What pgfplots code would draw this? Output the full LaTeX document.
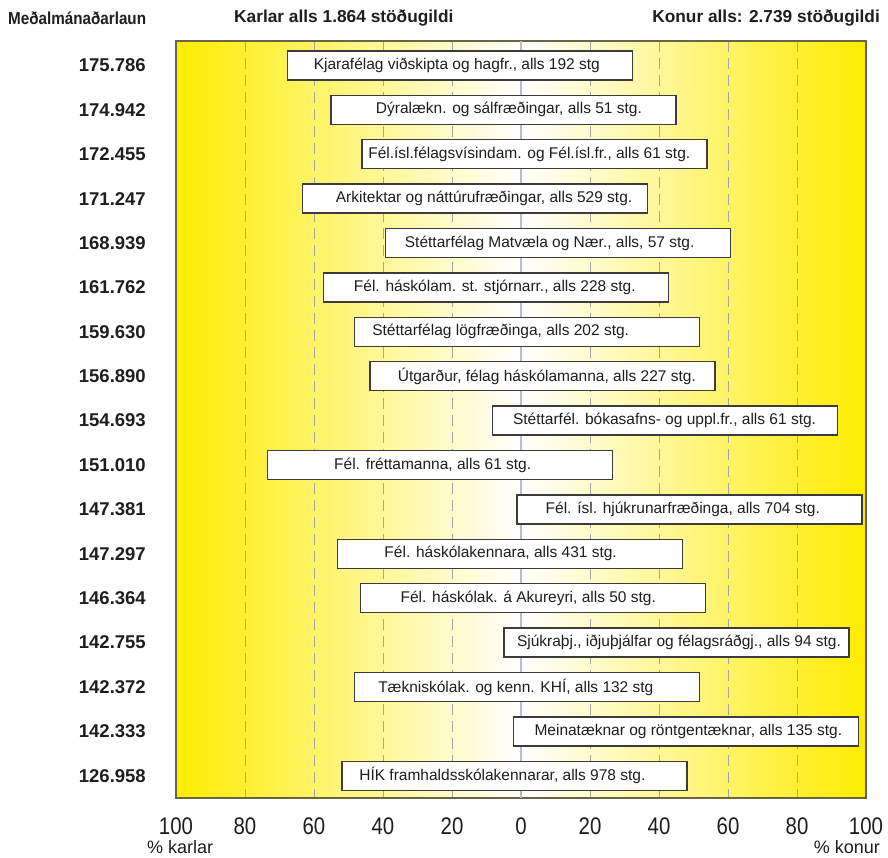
\documentclass[border=0pt]{standalone}
\usepackage{fontspec}
\setmainfont{Liberation Sans}
\usepackage{pgfplots}
\pgfplotsset{compat=1.18}
\usepackage{pgfplotstable}
\definecolor{edgeyellow}{RGB}{255,236,0}
\definecolor{boxborder}{RGB}{60,60,60}
\definecolor{gridgray}{RGB}{165,165,165}
\definecolor{zerogray}{RGB}{185,190,205}
\definecolor{framecol}{RGB}{105,100,70}
\definecolor{txt}{RGB}{30,30,30}
\newcommand{\tl}[1]{\scalebox{0.85}[1]{#1}}
% box spanning 100 axis units (3.45pt each) and 0.653 rows (44.4pt each)
\pgfdeclareplotmark{ibox}{%
  \pgfpathrectangle{\pgfpoint{-172.5pt}{-14.5pt}}{\pgfpoint{345pt}{29pt}}%
  \pgfusepathqfillstroke}

\pgfplotstableread[col sep=semicolon]{
row;men;women;cx;label
1;67.6;32.4;-18.6;Kjarafélag viðskipta og hagfr., alls 192 stg
2;55.1;44.9;-3.5;Dýralækn. og sálfræðingar, alls 51 stg.
3;46.1;53.9;2.4;Fél.ísl.félagsvísindam. og Fél.ísl.fr., alls 61 stg.
4;63.3;36.7;-10.7;Arkitektar og náttúrufræðingar, alls 529 stg.
5;39.2;60.8;8.3;Stéttarfélag Matvæla og Nær., alls, 57 stg.
6;57.3;42.7;-7.6;Fél. háskólam. st. stjórnarr., alls 228 stg.
7;48.2;51.8;-5.9;Stéttarfélag lögfræðinga, alls 202 stg.
8;43.8;56.2;7.5;Útgarður, félag háskólamanna, alls 227 stg.
9;8.2;91.8;41.6;Stéttarfél. bókasafns- og uppl.fr., alls 61 stg.
10;73.5;26.5;-25.6;Fél. fréttamanna, alls 61 stg.
11;1.2;98.8;46.9;Fél. ísl. hjúkrunarfræðinga, alls 704 stg.
12;53.1;46.9;-5.9;Fél. háskólakennara, alls 431 stg.
13;46.6;53.4;2.1;Fél. háskólak. á Akureyri, alls 50 stg.
14;4.9;95.1;45.8;Sjúkraþj., iðjuþjálfar og félagsráðgj., alls 94 stg.
15;48.3;51.7;-1.5;Tækniskólak. og kenn. KHÍ, alls 132 stg
16;2.2;97.8;48.5;Meinatæknar og  röntgentæknar, alls 135 stg.
17;51.9;48.1;-5.4;HÍK framhaldsskólakennarar, alls 978 stg.
}\datatable

\begin{document}
\begin{tikzpicture}
\begin{axis}[
  at={(0pt,0pt)}, anchor=south west,
  scale only axis, width=690pt, height=757pt,
  xmin=-100, xmax=100, ymin=0.45, ymax=17.5, y dir=reverse,
  axis background/.style={left color=edgeyellow, right color=edgeyellow, middle color=white},
  axis line style={draw=framecol, line width=1.3pt},
  major tick length=0pt,
  xtick={-100,-80,...,100},
  xticklabels={\tl{100},\tl{80},\tl{60},\tl{40},\tl{20},\tl{0},\tl{20},\tl{40},\tl{60},\tl{80},\tl{100}},
  xticklabel style={font=\fontsize{24}{24}\selectfont, text=txt, inner sep=0pt, anchor=north, yshift=-20pt},
  xmajorgrids=true,
  major grid style={draw=gridgray, line width=1pt, dash pattern=on 11pt off 6pt},
  extra x ticks={0}, extra x tick labels={},
  extra x tick style={grid=major, major grid style={draw=zerogray, line width=1.5pt, solid}},
  ytick={1,...,17},
  yticklabels={175.786,174.942,172.455,171.247,168.939,161.762,159.630,156.890,154.693,151.010,147.381,147.297,146.364,142.755,142.372,142.333,126.958},
  yticklabel style={font=\bfseries\fontsize{18.5}{18.5}\selectfont, text=txt, inner sep=0pt, anchor=east, xshift=-30pt},
  clip=false,
]
\addplot[only marks, mark=ibox, mark options={fill=white, draw=boxborder, line width=1.3pt}]
  table[x expr=(\thisrow{women}-\thisrow{men})/2, y=row] {\datatable};
\addplot[only marks, mark=none, nodes near coords, point meta=explicit symbolic,
  nodes near coords align={center},
  every node near coord/.append style={font=\fontsize{15.5}{15.5}\selectfont, text=txt, inner sep=0pt, anchor=center}]
  table[x=cx, y=row, meta=label] {\datatable};
\end{axis}
\node[anchor=west, font=\bfseries\fontsize{17.3}{17.3}\selectfont, text=txt, inner sep=0pt] at (-168pt,780pt) {\scalebox{0.88}[1]{Meðalmánaðarlaun}};
\node[anchor=west, font=\bfseries\fontsize{17.3}{17.3}\selectfont, text=txt, inner sep=0pt] at (58pt,780pt) {Karlar alls 1.864 stöðugildi};
\node[anchor=east, font=\bfseries\fontsize{17.3}{17.3}\selectfont, text=txt, inner sep=0pt] at (704pt,780pt) {Konur alls: 2.739 stöðugildi};
\node[anchor=west, font=\fontsize{18}{18}\selectfont, text=txt, inner sep=0pt] at (-29pt,-49pt) {\% karlar};
\node[anchor=east, font=\fontsize{18}{18}\selectfont, text=txt, inner sep=0pt] at (704pt,-49pt) {\% konur};
\pgfresetboundingbox
\path[use as bounding box] (-176pt,-59pt) rectangle (712pt,798pt);
\end{tikzpicture}
\end{document}
